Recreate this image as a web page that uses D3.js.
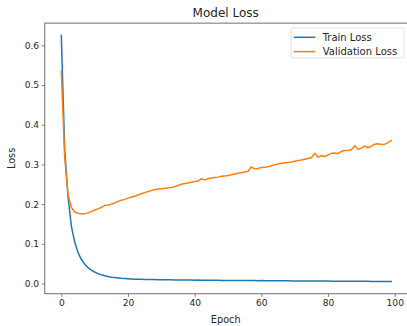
<!DOCTYPE html>
<html>
<head>
<meta charset="utf-8">
<script src="https://cdn.jsdelivr.net/npm/d3@7/dist/d3.min.js"></script>
<style>
  body { margin: 0; background: #fff; }
  text { font-family: "DejaVu Sans", sans-serif; fill: #262626; }
</style>
</head>
<body>
<div class="container"></div>
<script>
// loss per epoch
var trainLoss = [
  0.625, 0.340, 0.220, 0.145, 0.105, 0.078, 0.061, 0.049, 0.040, 0.034,
  0.029, 0.025, 0.022, 0.0195, 0.0175, 0.016, 0.015, 0.014, 0.013, 0.0125,
  0.012, 0.0115, 0.011, 0.0108, 0.0105, 0.0103, 0.0101, 0.0100, 0.0099, 0.0098,
  0.0096, 0.0095, 0.0093, 0.0092, 0.0090, 0.0089, 0.0088, 0.0087, 0.0088, 0.0086,
  0.0085, 0.0086, 0.0084, 0.0083, 0.0082, 0.0081, 0.0080, 0.0080, 0.0079, 0.0078,
  0.0078, 0.0077, 0.0076, 0.0076, 0.0075, 0.0074, 0.0074, 0.0073, 0.0073, 0.0072,
  0.0073, 0.0071, 0.0070, 0.0070, 0.0069, 0.0068, 0.0068, 0.0067, 0.0067, 0.0066,
  0.0066, 0.0065, 0.0065, 0.0064, 0.0064, 0.0063, 0.0063, 0.0062, 0.0062, 0.0061,
  0.0061, 0.0060, 0.0060, 0.0059, 0.0059, 0.0058, 0.0058, 0.0057, 0.0057, 0.0056,
  0.0056, 0.0055, 0.0055, 0.0054, 0.0054, 0.0053, 0.0053, 0.0052, 0.0052, 0.0051
];
var valLoss = [
  0.535, 0.320, 0.225, 0.192, 0.180, 0.177, 0.175, 0.176, 0.178, 0.181,
  0.185, 0.188, 0.192, 0.197, 0.198, 0.200, 0.203, 0.207, 0.210, 0.212,
  0.215, 0.218, 0.220, 0.223, 0.226, 0.229, 0.232, 0.234, 0.236, 0.238,
  0.239, 0.240, 0.241, 0.242, 0.244, 0.247, 0.250, 0.252, 0.253, 0.255,
  0.257, 0.258, 0.264, 0.261, 0.264, 0.266, 0.267, 0.268, 0.270, 0.271,
  0.272, 0.274, 0.276, 0.278, 0.279, 0.281, 0.283, 0.294, 0.289, 0.290,
  0.292, 0.293, 0.294, 0.297, 0.299, 0.301, 0.303, 0.304, 0.305, 0.306,
  0.308, 0.310, 0.311, 0.313, 0.315, 0.317, 0.328, 0.318, 0.322, 0.320,
  0.324, 0.328, 0.329, 0.327, 0.333, 0.335, 0.335, 0.337, 0.347, 0.338,
  0.341, 0.346, 0.342, 0.346, 0.351, 0.352, 0.350, 0.351, 0.355, 0.360
];
var epochs = d3.range(trainLoss.length);
var xTicks = [0, 20, 40, 60, 80, 100];
var yTicks = [0.0, 0.1, 0.2, 0.3, 0.4, 0.5, 0.6];
var seriesNames = ["Train Loss", "Validation Loss"];
var seriesColors = ["#1f77b4", "#ff7f0e"];

var width = 407, height = 326;
var plot = {left: 44.8, right: 407.9, top: 23.1, bottom: 293.8};

var xScale = d3.scaleLinear().domain([-4.95, 103.95]).range([plot.left, plot.right]);
var yMin = d3.min(trainLoss), yMax = d3.max(trainLoss);
var yPad = (yMax - yMin) * 0.05;
var yScale = d3.scaleLinear().domain([yMin - yPad, yMax + yPad]).range([plot.bottom, plot.top]);

var svg = d3.select('.container').append('svg')
    .attr('width', width).attr('height', height);

// lines
var line = d3.line()
    .x(function (d, i) { return xScale(epochs[i]); })
    .y(function (d) { return yScale(d); });

[trainLoss, valLoss].forEach(function (s, i) {
    svg.append('path')
        .datum(s)
        .attr('fill', 'none')
        .attr('stroke', seriesColors[i])
        .attr('stroke-width', 1.5)
        .attr('stroke-linejoin', 'round')
        .attr('stroke-linecap', 'square')
        .attr('d', line);
});

// axes
var xAxis = d3.axisBottom(xScale).tickValues(xTicks).tickFormat(d3.format('d'))
    .tickSizeInner(3.1).tickSizeOuter(0).tickPadding(2.6);
var yAxis = d3.axisLeft(yScale).tickValues(yTicks).tickFormat(d3.format('.1f'))
    .tickSizeInner(3.1).tickSizeOuter(0).tickPadding(2.6);

var gx = svg.append('g').attr('transform', 'translate(0,' + plot.bottom + ')').call(xAxis);
var gy = svg.append('g').attr('transform', 'translate(' + plot.left + ',0)').call(yAxis);
[gx, gy].forEach(function (g) {
    g.select('.domain').remove();
    g.selectAll('line').attr('stroke', '#333').attr('stroke-width', 0.6);
    g.selectAll('text').attr('font-size', 9.1).attr('fill', '#262626')
        .style('font-family', '"DejaVu Sans", sans-serif');
});

// frame
svg.append('rect')
    .attr('x', plot.left).attr('y', plot.top)
    .attr('width', plot.right - plot.left).attr('height', plot.bottom - plot.top)
    .attr('fill', 'none').attr('stroke', '#333').attr('stroke-width', 0.7);

// title and labels
svg.append('text').attr('x', 225.7).attr('y', 17.3).attr('text-anchor', 'middle')
    .attr('font-size', 12).text('Model Loss');
svg.append('text').attr('x', 225.7).attr('y', 322.8).attr('text-anchor', 'middle')
    .attr('font-size', 9.7).text('Epoch');
svg.append('text').attr('transform', 'translate(15,' + ((plot.top + plot.bottom) / 2) + ') rotate(-90)')
    .attr('text-anchor', 'middle').attr('font-size', 9.7).text('Loss');

// legend
var legend = svg.append('g').attr('transform', 'translate(291,28)');
legend.append('rect').attr('width', 113).attr('height', 30).attr('rx', 2)
    .attr('fill', '#fff').attr('fill-opacity', 0.8)
    .attr('stroke', '#d6d6d6').attr('stroke-width', 0.7);
seriesNames.forEach(function (name, i) {
    var y = 9.3 + i * 14.3;
    legend.append('line').attr('x1', 2.7).attr('x2', 24.3).attr('y1', y).attr('y2', y)
        .attr('stroke', seriesColors[i]).attr('stroke-width', 1.5);
    legend.append('text').attr('x', 31.7).attr('y', y + 3.5)
        .attr('font-size', 10).text(name);
});
</script>
</body>
</html>
